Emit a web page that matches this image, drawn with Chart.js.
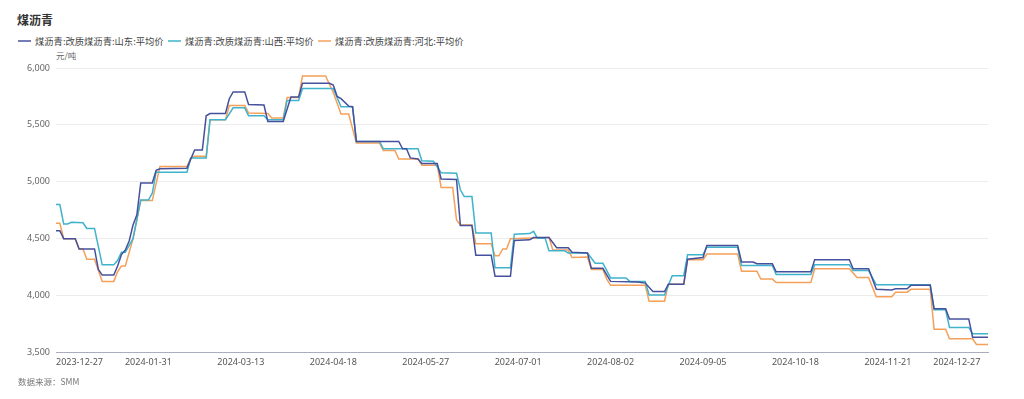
<!DOCTYPE html>
<html>
<head>
    <meta charset="utf-8">
    <title>煤沥青</title>
    <script src="https://cdn.jsdelivr.net/npm/chart.js"></script>
    <style>
        body { margin: 0; background: #fff; font-family: "Noto Sans CJK SC", "Noto Sans", sans-serif; }
        #wrap { position: relative; width: 1024px; height: 399px; }
        #chart { position: absolute; left: 0; top: 0; }
        .title { position: absolute; left: 17px; top: 11px; font-size: 12px; font-weight: bold; color: #333; }
        .legend { position: absolute; left: 18px; top: 34px; display: flex; font-size: 9.3px; color: #444; }
        .legend .item { display: flex; align-items: center; width: 150px; }
        .legend .swatch { width: 13px; height: 2px; margin-right: 4px; opacity: .75; }
        .unit { position: absolute; left: 56px; top: 49px; font-size: 8.5px; color: #666; }
        .source { position: absolute; left: 18px; top: 375px; font-size: 8.5px; color: #777; }
    </style>
</head>
<body>
<div id="wrap">
    <div class="title">煤沥青</div>
    <div class="legend" id="legend"></div>
    <div class="unit">元/吨</div>
    <canvas id="chart" width="1024" height="399"></canvas>
    <div class="source">数据来源：SMM</div>
</div>

<script>
    // x = trading day counted from 2023-12-27, one tick label every 24 trading days
    const tickLabels = ['2023-12-27', '2024-01-31', '2024-03-13', '2024-04-18', '2024-05-27', '2024-07-01',
        '2024-08-02', '2024-09-05', '2024-10-18', '2024-11-21', '2024-12-27'];
    const labelEvery = 24;
    const lastDay = 242;

    const seriesNames = ['煤沥青:改质煤沥青:山东:平均价', '煤沥青:改质煤沥青:山西:平均价', '煤沥青:改质煤沥青:河北:平均价'];

    // [day, price] at the turning points of each series
    const shandong = [
        [0, 4570], [1, 4570], [2, 4500], [5, 4500], [6, 4410], [10, 4410], [11, 4230], [12, 4180], [15, 4180],
        [16, 4260], [17, 4360], [18, 4400], [19, 4480], [20, 4620], [21, 4710], [22, 4990], [25, 4990],
        [26, 5100], [27, 5115], [34, 5120], [36, 5280], [38, 5280], [39, 5580], [40, 5600], [44, 5600],
        [45, 5730], [46, 5790], [49, 5790], [50, 5680], [54, 5675], [55, 5530], [59, 5530], [61, 5745],
        [63, 5745], [64, 5865], [71, 5865], [72, 5850], [73, 5750], [74, 5730], [76, 5665], [77, 5660],
        [78, 5355], [89, 5355], [90, 5290], [91, 5290], [92, 5210], [94, 5200], [95, 5160], [99, 5160],
        [100, 5025], [104, 5020], [105, 4615], [108, 4615], [109, 4355], [113, 4355], [114, 4170], [118, 4170],
        [119, 4485], [123, 4490], [124, 4510], [128, 4510], [130, 4420], [133, 4420], [134, 4380], [138, 4375],
        [139, 4240], [142, 4240], [144, 4125], [151, 4120], [153, 4110], [155, 4035], [158, 4035], [159, 4100],
        [163, 4100], [164, 4320], [168, 4335], [169, 4440], [177, 4440], [178, 4295], [181, 4295], [182, 4280],
        [186, 4280], [187, 4210], [196, 4210], [197, 4315], [206, 4315], [207, 4235], [211, 4235], [213, 4055],
        [217, 4050], [218, 4060], [221, 4060], [222, 4090], [227, 4090], [228, 3885], [231, 3885], [232, 3795],
        [237, 3795], [238, 3635], [242, 3635]
    ];
    const shanxi = [
        [0, 4800], [1, 4800], [2, 4630], [3, 4630], [4, 4645], [7, 4640], [8, 4590], [10, 4590], [12, 4270],
        [15, 4270], [16, 4310], [17, 4380], [18, 4380], [20, 4500], [22, 4840], [24, 4840], [25, 4900],
        [26, 5085], [34, 5085], [35, 5210], [39, 5210], [40, 5545], [44, 5545], [46, 5650], [49, 5650],
        [50, 5580], [54, 5580], [55, 5545], [59, 5545], [60, 5715], [63, 5715], [64, 5820], [72, 5820],
        [74, 5660], [77, 5660], [78, 5355], [84, 5355], [85, 5290], [94, 5290], [95, 5185], [98, 5180],
        [100, 5080], [104, 5075], [105, 4930], [106, 4870], [108, 4870], [109, 4550], [113, 4550], [114, 4245],
        [118, 4245], [119, 4540], [123, 4545], [124, 4565], [125, 4505], [127, 4505], [128, 4395], [132, 4395],
        [133, 4375], [138, 4375], [140, 4285], [142, 4285], [144, 4155], [148, 4155], [149, 4125], [153, 4125],
        [154, 4005], [158, 4005], [160, 4175], [163, 4175], [164, 4360], [168, 4360], [169, 4425], [177, 4425],
        [178, 4265], [186, 4265], [187, 4185], [196, 4185], [197, 4270], [206, 4270], [207, 4220], [211, 4220],
        [213, 4095], [227, 4095], [228, 3875], [231, 3875], [232, 3720], [237, 3720], [238, 3665], [242, 3665]
    ];
    const hebei = [
        [0, 4635], [1, 4635], [2, 4500], [5, 4500], [6, 4410], [7, 4410], [8, 4320], [10, 4320], [12, 4125],
        [15, 4125], [16, 4210], [17, 4260], [18, 4260], [20, 4500], [22, 4835], [25, 4835], [27, 5135],
        [34, 5135], [35, 5210], [36, 5225], [39, 5225], [40, 5545], [44, 5545], [45, 5670], [49, 5670],
        [50, 5605], [55, 5600], [56, 5560], [59, 5560], [60, 5740], [63, 5740], [64, 5930], [70, 5930],
        [72, 5785], [74, 5595], [76, 5595], [78, 5340], [84, 5340], [85, 5275], [88, 5275], [89, 5200],
        [94, 5200], [95, 5145], [99, 5145], [100, 4950], [103, 4950], [104, 4665], [105, 4620], [108, 4620],
        [109, 4455], [113, 4455], [114, 4350], [115, 4350], [116, 4410], [117, 4410], [118, 4500], [128, 4510],
        [129, 4400], [133, 4400], [134, 4335], [138, 4340], [139, 4230], [142, 4230], [143, 4145], [144, 4090],
        [153, 4090], [154, 3950], [158, 3950], [159, 4100], [163, 4100], [164, 4315], [168, 4315], [169, 4365],
        [177, 4365], [178, 4215], [182, 4215], [183, 4145], [186, 4145], [187, 4115], [196, 4115], [197, 4235],
        [206, 4235], [208, 4160], [211, 4160], [213, 3990], [217, 3990], [218, 4030], [221, 4030], [222, 4055],
        [227, 4055], [228, 3705], [231, 3705], [232, 3620], [238, 3620], [239, 3570], [242, 3570]
    ];

    const colors = ['#45519c', '#3fb3cb', '#f5a05a'];
    const allSeries = [shandong, shanxi, hebei];

    // html legend
    const legend = document.getElementById('legend');
    seriesNames.forEach((name, k) => {
        const item = document.createElement('div');
        item.className = 'item';
        const sw = document.createElement('span');
        sw.className = 'swatch';
        sw.style.background = colors[k];
        const txt = document.createElement('span');
        txt.textContent = name;
        item.appendChild(sw);
        item.appendChild(txt);
        legend.appendChild(item);
    });

    const ctx = document.getElementById('chart').getContext('2d');
    new Chart(ctx, {
        type: 'line',
        data: {
            datasets: allSeries.map((s, k) => ({
                label: seriesNames[k],
                data: s.map(p => ({ x: p[0], y: p[1] })),
                borderColor: colors[k],
                backgroundColor: colors[k],
                borderWidth: 1.5,
                pointRadius: 0,
                tension: 0
            }))
        },
        options: {
            responsive: false,
            animation: false,
            layout: { padding: { left: 0, right: 36, top: 68, bottom: 22.5 } },
            plugins: { legend: { display: false }, tooltip: { enabled: false } },
            scales: {
                x: {
                    type: 'linear',
                    min: 0,
                    max: lastDay,
                    afterFit: s => { s.height = 24; },
                    afterBuildTicks: s => { s.ticks = tickLabels.map((t, k) => ({ value: k * labelEvery })); },
                    grid: { display: false, drawTicks: false },
                    border: { display: true, color: '#a9adbd', width: 1 },
                    ticks: {
                        autoSkip: false,
                        maxRotation: 0,
                        align: 'inner',
                        padding: 5,
                        color: '#555',
                        font: { family: '"Noto Sans", sans-serif', size: 9 },
                        callback: v => tickLabels[v / labelEvery]
                    }
                },
                y: {
                    min: 3500,
                    max: 6000,
                    afterFit: s => { s.width = 56; },
                    grid: { color: '#ececec', drawTicks: false },
                    border: { display: false },
                    ticks: {
                        stepSize: 500,
                        padding: 6,
                        color: '#666',
                        font: { family: '"Noto Sans", sans-serif', size: 9 },
                        callback: v => v.toLocaleString('en-US')
                    }
                }
            }
        }
    });
</script>
</body>
</html>
